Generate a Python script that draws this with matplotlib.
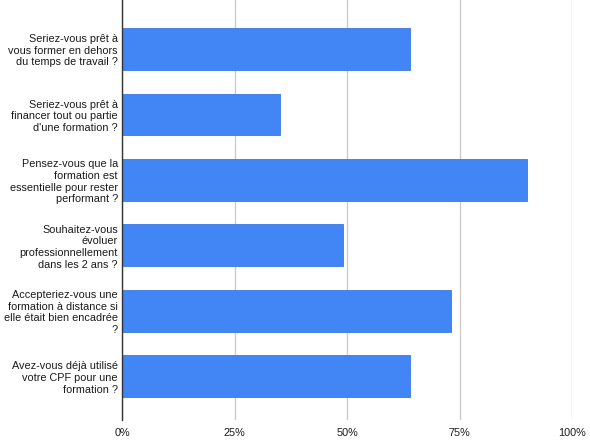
import matplotlib.pyplot as plt
from matplotlib.ticker import FuncFormatter

questions = [
    "Seriez-vous prêt à\nvous former en dehors\ndu temps de travail ?",
    "Seriez-vous prêt à\nfinancer tout ou partie\nd'une formation ?",
    "Pensez-vous que la\nformation est\nessentielle pour rester\nperformant ?",
    "Souhaitez-vous\névoluer\nprofessionnellement\ndans les 2 ans ?",
    "Accepteriez-vous une\nformation à distance si\nelle était bien encadrée\n?",
    "Avez-vous déjà utilisé\nvotre CPF pour une\nformation ?",
]
values = [64, 35, 90, 49, 73, 64]
xticks = [0, 25, 50, 75, 100]

plt.rcParams['font.family'] = ['Liberation Sans', 'DejaVu Sans']

fig = plt.figure(figsize=(5.9, 4.43), dpi=100)
ax = fig.add_axes([122 / 590, 23 / 443, 450 / 590, 420 / 443])

pos = list(range(len(questions)))
ax.barh(pos, values, height=0.64, color='#4285F4', edgecolor='#3b78e7', linewidth=0.6, zorder=3)

ax.set_xlim(0, 100)
ax.set_ylim(5.67, -0.75)
ax.set_xticks(xticks)
ax.xaxis.set_major_formatter(FuncFormatter(lambda v, p: f"{int(v)}%"))
ax.set_yticks(pos)
ax.set_yticklabels(questions, fontsize=7.8, ha='right', linespacing=1.2)
ax.tick_params(axis='both', length=0, labelsize=7.8, colors='#1a1a1a')
ax.tick_params(axis='y', pad=3)
ax.tick_params(axis='x', pad=6)

ax.grid(axis='x', color='#cccccc', linewidth=1, zorder=0)
for s in ['top', 'right', 'bottom']:
    ax.spines[s].set_visible(False)
ax.spines['left'].set_color('#333333')
ax.spines['left'].set_linewidth(1)
ax.spines['left'].set_zorder(4)

fig.savefig('out.png', dpi=100)
